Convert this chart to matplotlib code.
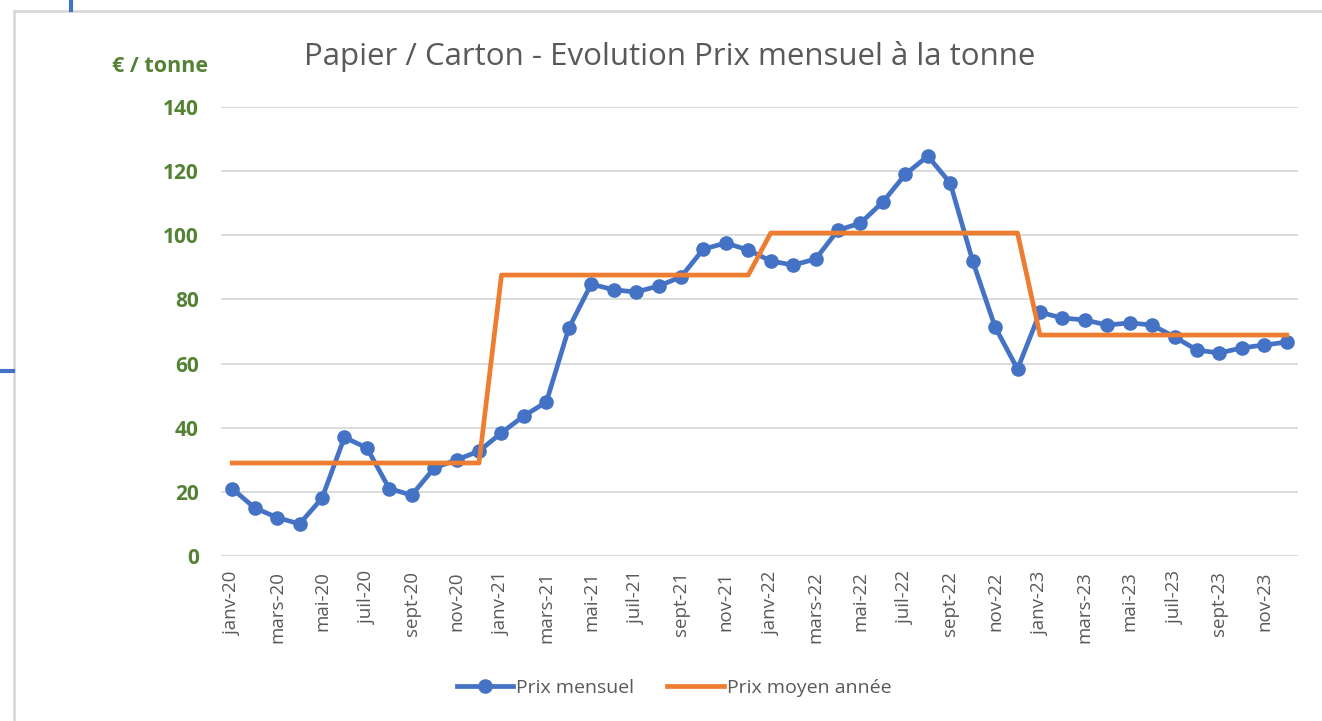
import numpy as np
import matplotlib
matplotlib.use("Agg")
import matplotlib.pyplot as plt
from matplotlib.lines import Line2D

# monthly labels jan-2020 .. dec-2023
month_names = ["janv", "févr", "mars", "avr", "mai", "juin",
               "juil", "août", "sept", "oct", "nov", "déc"]
years = ["20", "21", "22", "23"]
months = [f"{m}-{y}" for y in years for m in month_names]

prix_mensuel = [
    21, 15, 12, 10, 18, 37, 33.7, 21, 19, 27.4, 30, 32.7,
    38.4, 43.7, 48, 71, 84.8, 83, 82.3, 84.2, 87, 95.7, 97.6, 95.4,
    92, 90.7, 92.6, 101.6, 103.8, 110.4, 119, 124.7, 116.3, 92, 71.4, 58.3,
    76, 74.2, 73.6, 72, 72.7, 72, 68.3, 64.2, 63.3, 64.9, 65.8, 66.7,
]
prix_moyen_annee = [29.0, 87.6, 100.7, 68.9]

BLUE = "#4472C4"
ORANGE = "#ED7D31"
GREEN = "#548235"
GREY = "#595959"

plt.rcParams["font.family"] = ["Open Sans", "DejaVu Sans"]

fig = plt.figure(figsize=(13.22, 7.21), dpi=100)
ax = fig.add_axes([221 / 1322, 1 - 556 / 721, (1298 - 221) / 1322, (556 - 107) / 721])

x = np.arange(len(months))
moyen = np.repeat(prix_moyen_annee, 12)

ax.plot(x, prix_mensuel, color=BLUE, lw=3.4, marker="o", ms=9.5,
        solid_capstyle="round", zorder=3, label="Prix mensuel")
ax.plot(x, moyen, color=ORANGE, lw=3.4, zorder=4, label="Prix moyen année")

ax.set_xlim(-0.5, len(months) - 0.5)
ax.set_ylim(0, 140)
ax.set_yticks(range(0, 141, 20))
ax.grid(axis="y", color="#D9D9D9", lw=1.3)
ax.set_axisbelow(True)
for s in ax.spines.values():
    s.set_visible(False)

ax.set_xticks(x[::2])
ax.set_xticklabels(months[::2], rotation=90, fontsize=13.5, color=GREY)
ax.tick_params(axis="x", length=0, pad=11)
ax.tick_params(axis="y", length=0, pad=16, labelsize=15, labelcolor=GREEN)
for t in ax.get_yticklabels():
    t.set_fontweight("bold")

fig.text(160 / 1322, 1 - 66 / 721, "€ / tonne", ha="center", va="center",
         fontsize=15.5, fontweight="bold", color=GREEN)
fig.text(670 / 1322, 1 - 56 / 721, "Papier / Carton - Evolution Prix mensuel à la tonne",
         ha="center", va="center", fontsize=22.5, color=GREY)

handles = [Line2D([], [], color=BLUE, lw=3.4, marker="o", ms=9.5),
           Line2D([], [], color=ORANGE, lw=3.4)]
fig.legend(handles, ["Prix mensuel", "Prix moyen année"], loc="center",
           bbox_to_anchor=(674 / 1322, 1 - 688 / 721), ncol=2, frameon=False,
           fontsize=14, labelcolor=GREY, handlelength=2.9, handletextpad=0.15,
           columnspacing=1.7)

# chart frame and screenshot edges
fig.add_artist(Line2D([14 / 1322, 1], [1 - 11 / 721] * 2, color="#D9D9D9", lw=2))
fig.add_artist(Line2D([14 / 1322] * 2, [0, 1 - 11 / 721], color="#D9D9D9", lw=2))
fig.add_artist(Line2D([71 / 1322] * 2, [1 - 10 / 721, 1], color=BLUE, lw=3))
fig.add_artist(Line2D([0, 13 / 1322], [1 - 371 / 721] * 2, color=BLUE, lw=3))

fig.savefig("out.png", dpi=100)
